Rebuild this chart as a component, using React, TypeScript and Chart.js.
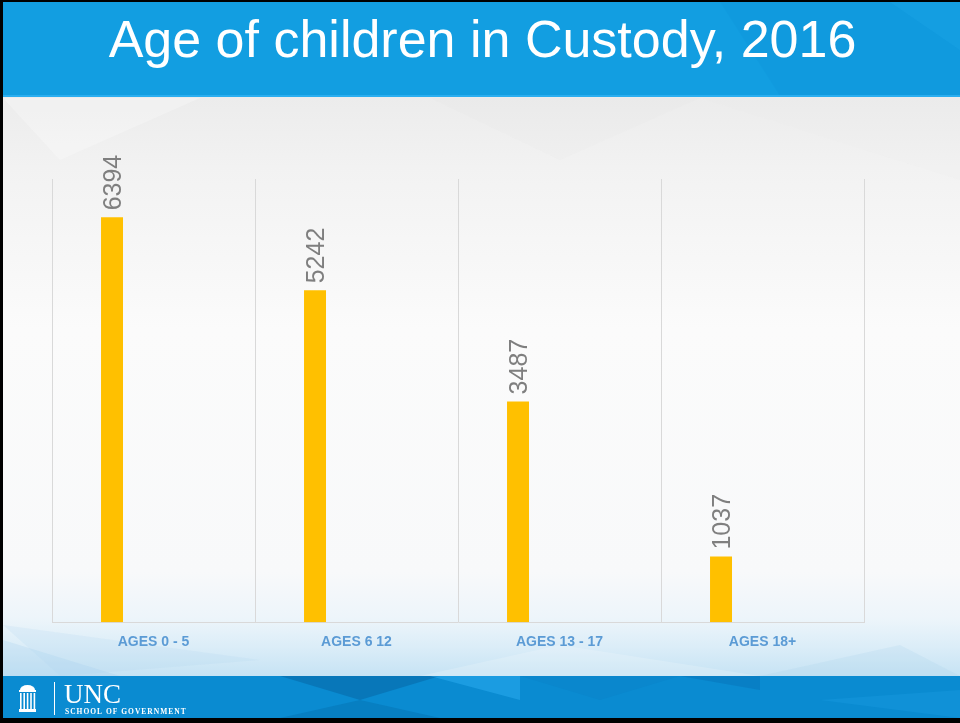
import React, { useEffect, useRef } from "react";
import { Chart, registerables } from "chart.js";

Chart.register(...registerables);

const TITLE = "Age of children in Custody, 2016";
const CATEGORIES = ["AGES 0 - 5", "AGES 6 12", "AGES 13 - 17", "AGES 18+"];
const CHILDREN = [6394, 5242, 3487, 1037];
const EMPTY_A = [null, null, null, null];
const EMPTY_B = [null, null, null, null];
const Y_MAX = 7000;

function poly(ctx: CanvasRenderingContext2D, pts: number[][], color: string) {
  ctx.beginPath();
  ctx.moveTo(pts[0][0], pts[0][1]);
  for (let i = 1; i < pts.length; i++) ctx.lineTo(pts[i][0], pts[i][1]);
  ctx.closePath();
  ctx.fillStyle = color;
  ctx.fill();
}

const slidePlugin = {
  id: "slide",
  beforeDraw(chart: any) {
    const ctx: CanvasRenderingContext2D = chart.ctx;
    const W = chart.width;
    const H = chart.height;
    ctx.save();
    ctx.fillStyle = "#000000";
    ctx.fillRect(0, 0, W, H);

    const g = ctx.createLinearGradient(0, 98, 0, 676);
    g.addColorStop(0, "#ececec");
    g.addColorStop(0.12, "#f2f2f2");
    g.addColorStop(0.4, "#fbfbfb");
    g.addColorStop(0.82, "#f8f9fa");
    g.addColorStop(0.9, "#edf5fa");
    g.addColorStop(0.95, "#dbedf8");
    g.addColorStop(1, "#c6e3f4");
    ctx.fillStyle = g;
    ctx.fillRect(3, 97, W - 3, 676 - 97);

    poly(ctx, [[3, 98], [200, 98], [60, 160]], "rgba(255,255,255,0.25)");
    poly(ctx, [[430, 98], [700, 98], [560, 160]], "rgba(230,230,230,0.15)");
    poly(ctx, [[700, 98], [960, 98], [960, 180]], "rgba(235,235,235,0.15)");
    poly(ctx, [[3, 640], [120, 676], [3, 676]], "rgba(150,200,235,0.2)");
    poly(ctx, [[3, 625], [260, 660], [60, 676]], "rgba(170,212,240,0.18)");
    poly(ctx, [[420, 676], [560, 645], [760, 676]], "rgba(255,255,255,0.18)");
    poly(ctx, [[760, 676], [900, 645], [960, 676]], "rgba(160,205,235,0.18)");

    ctx.fillStyle = "#129ee1";
    ctx.fillRect(3, 2, W - 3, 94);
    poly(ctx, [[720, 2], [960, 2], [960, 96], [780, 96]], "rgba(8,130,205,0.12)");
    poly(ctx, [[890, 2], [960, 2], [960, 50]], "rgba(40,175,240,0.2)");
    ctx.fillStyle = "#2aaef0";
    ctx.fillRect(3, 95, W - 3, 2);

    ctx.fillStyle = "#0a8bd1";
    ctx.fillRect(3, 676, W - 3, 718 - 676);
    poly(ctx, [[280, 676], [440, 676], [360, 700]], "rgba(4,90,150,0.4)");
    poly(ctx, [[280, 718], [360, 700], [440, 718]], "rgba(4,100,160,0.3)");
    poly(ctx, [[430, 676], [520, 676], [520, 700]], "rgba(60,190,255,0.35)");
    poly(ctx, [[520, 676], [680, 676], [600, 700]], "rgba(10,120,190,0.2)");
    poly(ctx, [[680, 676], [760, 676], [760, 690]], "rgba(6,100,170,0.3)");
    poly(ctx, [[820, 700], [960, 690], [960, 718]], "rgba(40,170,240,0.2)");

    ctx.fillStyle = "#ffffff";
    ctx.beginPath();
    ctx.ellipse(27.5, 690, 7.5, 5, 0, Math.PI, 2 * Math.PI);
    ctx.fill();
    ctx.fillRect(19, 690, 17, 2);
    for (let i = 0; i < 5; i++) ctx.fillRect(20 + i * 3.4, 693, 1.6, 16);
    ctx.fillRect(19, 709, 17, 3);
    ctx.fillRect(54, 682, 1, 33);
    ctx.font = "27px 'Liberation Serif', serif";
    ctx.textAlign = "left";
    ctx.textBaseline = "alphabetic";
    ctx.fillText("UNC", 64, 703);
    ctx.font = "bold 7.5px 'Liberation Serif', serif";
    (ctx as any).letterSpacing = "1px";
    ctx.fillText("SCHOOL OF GOVERNMENT", 65, 713.5);
    (ctx as any).letterSpacing = "0px";

    ctx.font = "52px 'Liberation Sans', Arial, sans-serif";
    ctx.fillStyle = "#ffffff";
    ctx.textAlign = "center";
    ctx.fillText(TITLE, 482.5, 57);
    ctx.restore();
  },
};

const valueLabelPlugin = {
  id: "valueLabels",
  afterDatasetsDraw(chart: any) {
    const ctx: CanvasRenderingContext2D = chart.ctx;
    const meta = chart.getDatasetMeta(0);
    const data = chart.data.datasets[0].data;
    ctx.save();
    ctx.font = "25px 'Liberation Sans', Arial, sans-serif";
    ctx.fillStyle = "#7f7f7f";
    ctx.textAlign = "left";
    ctx.textBaseline = "alphabetic";
    meta.data.forEach((el: any, i: number) => {
      ctx.save();
      ctx.translate(el.x, el.y - 7);
      ctx.rotate(-Math.PI / 2);
      ctx.fillText(String(data[i]), 0, 9);
      ctx.restore();
    });
    ctx.restore();
  },
};

export default function App() {
  const ref = useRef<HTMLCanvasElement | null>(null);
  useEffect(() => {
    if (!ref.current) return;
    const chart = new Chart(ref.current, {
      type: "bar",
      data: {
        labels: CATEGORIES,
        datasets: [
          { label: "Children", data: CHILDREN, backgroundColor: "#FFC000", categoryPercentage: 0.613, barPercentage: 0.53 },
          { label: "", data: EMPTY_A as any, backgroundColor: "#FFC000", categoryPercentage: 0.613, barPercentage: 0.53 },
          { label: "", data: EMPTY_B as any, backgroundColor: "#FFC000", categoryPercentage: 0.613, barPercentage: 0.53 },
        ],
      },
      options: {
        animation: false,
        responsive: false,
        devicePixelRatio: 1,
        layout: { padding: { left: 52, right: 96, top: 179, bottom: 60 } },
        plugins: { legend: { display: false }, tooltip: { enabled: false }, title: { display: false } },
        scales: {
          x: {
            offset: true,
            grid: { color: "#d9d9d9", offset: true, drawTicks: false, lineWidth: 1 },
            border: { color: "#d9d9d9" },
            ticks: {
              color: "#5b9bd5",
              padding: 12,
              font: { family: "'Liberation Sans', Arial, sans-serif", size: 14, weight: "bold" },
            },
          },
          y: { display: false, min: 0, max: Y_MAX },
        },
      },
      plugins: [slidePlugin, valueLabelPlugin],
    });
    return () => chart.destroy();
  }, []);
  return (
    <div style={{ position: "fixed", left: 0, top: 0, width: 960, height: 723 }}>
      <canvas ref={ref} width={960} height={723} style={{ display: "block" }} />
    </div>
  );
}
